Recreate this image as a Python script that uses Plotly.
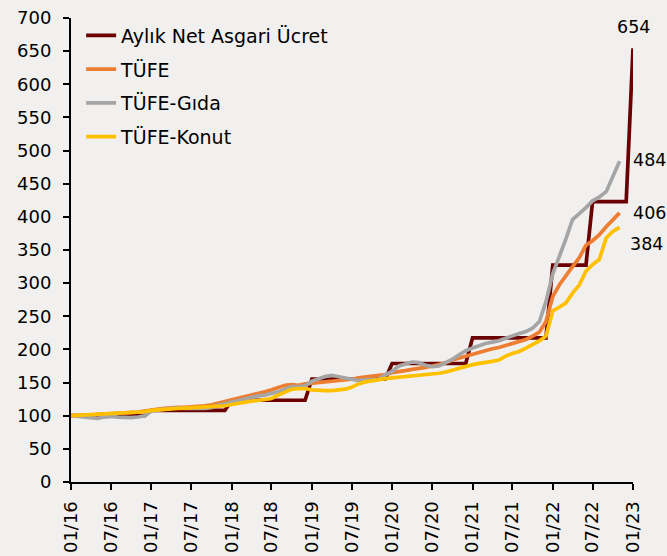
import plotly.graph_objects as go
import pandas as pd

months_all = pd.date_range("2016-01-01", "2023-01-01", freq="MS")  # 85 monthly categories
months_cpi = months_all[:83]  # CPI series end Nov 2022

asgari_ucret = [
    100, 100, 100, 100, 100, 100, 100, 100, 100, 100, 100, 100,
    108, 108, 108, 108, 108, 108, 108, 108, 108, 108, 108, 108,
    123.3, 123.3, 123.3, 123.3, 123.3, 123.3, 123.3, 123.3, 123.3, 123.3, 123.3, 123.3,
    155.4, 155.4, 155.4, 155.4, 155.4, 155.4, 155.4, 155.4, 155.4, 155.4, 155.4, 155.4,
    178.8, 178.8, 178.8, 178.8, 178.8, 178.8, 178.8, 178.8, 178.8, 178.8, 178.8, 178.8,
    217.4, 217.4, 217.4, 217.4, 217.4, 217.4, 217.4, 217.4, 217.4, 217.4, 217.4, 217.4,
    327.2, 327.2, 327.2, 327.2, 327.2, 327.2,
    423.1, 423.1, 423.1, 423.1, 423.1, 423.1,
    654.4,
]

tufe = [
    100, 100, 100.5, 101, 102, 102.5, 103.5, 104, 104, 105, 105.5, 107,
    109, 110, 111, 112, 112.5, 112.5, 113, 113.5, 115, 116.5, 119, 121,
    123, 126, 128, 130, 133, 136, 139, 142, 146, 147, 146, 148,
    149, 150, 151, 152, 153, 153, 155, 157, 158, 160, 161, 162,
    165, 166, 168, 170, 171, 173, 175, 177, 180, 184, 187, 190,
    193, 195, 198, 201, 203, 206, 208, 211, 215, 220, 226, 242,
    280, 298, 312, 325, 338, 357, 364, 373, 385, 396, 406,
]

tufe_gida = [
    100, 99, 97, 96, 96, 98, 99, 98, 97, 97, 98, 100,
    107, 109, 110, 111, 112, 111, 111, 110, 111, 112, 116, 118,
    121, 123, 125, 128, 130, 131, 133, 136, 140, 144, 144, 145,
    152, 156, 159, 161, 159, 156, 154, 153, 154, 154, 155, 162,
    167, 175, 178, 181, 180, 176, 174, 175, 180, 185, 192, 198,
    202, 206, 209, 211, 213, 217, 221, 224, 227, 232, 242, 272,
    314, 340, 366, 396, 404, 414, 424, 430, 438, 460, 484,
]

tufe_konut = [
    100, 100.5, 101, 101.5, 102, 102.5, 103, 103.5, 104, 104.5, 105, 106,
    108, 109, 110, 110.5, 111, 111.5, 112, 112.5, 113, 113.5, 114, 115,
    117, 119, 121, 122, 123, 124, 126, 131, 136, 140, 141, 141,
    139, 138, 138, 138, 139, 140, 143, 148, 151, 153, 154, 156,
    157, 158, 159, 159, 160, 161, 162, 164, 166, 169, 172, 174,
    177, 179, 180, 182, 184, 190, 194, 197, 202, 207, 213, 220,
    258, 264, 270, 285, 297, 318, 328, 336, 368, 378, 384,
]

series_names = ["Aylık Net Asgari Ücret", "TÜFE", "TÜFE-Gıda", "TÜFE-Konut"]
series_colors = ["#6b0000", "#ed7d31", "#a5a5a5", "#ffc000"]
series_x = [months_all, months_cpi, months_cpi, months_cpi]
series_y = [asgari_ucret, tufe, tufe_gida, tufe_konut]

tick_vals = pd.date_range("2016-01-01", "2023-01-01", freq="6MS")
tick_text = [d.strftime("%m/%y") for d in tick_vals]

FONT = "DejaVu Sans"
fig = go.Figure()
for i, (name, color, xs, ys) in enumerate(zip(series_names, series_colors, series_x, series_y)):
    fig.add_trace(go.Scatter(
        x=xs, y=ys, name=name, mode="lines",
        line=dict(color=color, width=3.7),
        cliponaxis=False, legendgroup=f"g{i}",
    ))

# end-value labels
label_specs = [
    (series_x[0][-1], asgari_ucret[-1], 0, 21),
    (series_x[2][-1], tufe_gida[-1], 30, 1),
    (series_x[1][-1], tufe[-1], 30, 0),
    (series_x[3][-1], tufe_konut[-1], 27, -17),
]
for xv, yv, xs_, ys_ in label_specs:
    fig.add_annotation(x=xv, y=yv, text=f"{round(yv)}", showarrow=False,
                       xshift=xs_, yshift=ys_, font=dict(family=FONT, size=17.5, color="black"))

bg = "#f1f0ee"
fig.update_layout(
    width=667, height=556,
    margin=dict(l=71, r=34, t=18, b=74, autoexpand=False),
    paper_bgcolor=bg, plot_bgcolor=bg,
    font=dict(family=FONT, size=18, color="black"),
    showlegend=True,
    legend=dict(x=0.018, y=1.003, xanchor="left", yanchor="top",
                bgcolor="rgba(0,0,0,0)", tracegroupgap=6,
                font=dict(family=FONT, size=19, color="black")),
)
fig.update_xaxes(
    range=[tick_vals[0], tick_vals[-1]], automargin=False,
    tickvals=tick_vals, ticktext=tick_text, tickangle=-90,
    showgrid=False, zeroline=False,
    showline=True, linecolor="black", linewidth=2,
    ticks="outside", ticklen=6, tickwidth=2, tickcolor="black",
    ticklabelstandoff=4,
    tickfont=dict(family=FONT, size=18, color="black"),
)
fig.update_yaxes(
    range=[0, 700], dtick=50, tick0=0, automargin=False,
    showgrid=False, zeroline=False,
    showline=True, linecolor="black", linewidth=2,
    ticks="outside", ticklen=6, tickwidth=2, tickcolor="black",
    ticklabelstandoff=8,
    tickfont=dict(family=FONT, size=18, color="black"),
)

fig.write_html(
    "out.html",
    config={"displayModeBar": False},
    post_script="document.body.style.margin='0';document.body.style.background='%s';" % bg,
)
